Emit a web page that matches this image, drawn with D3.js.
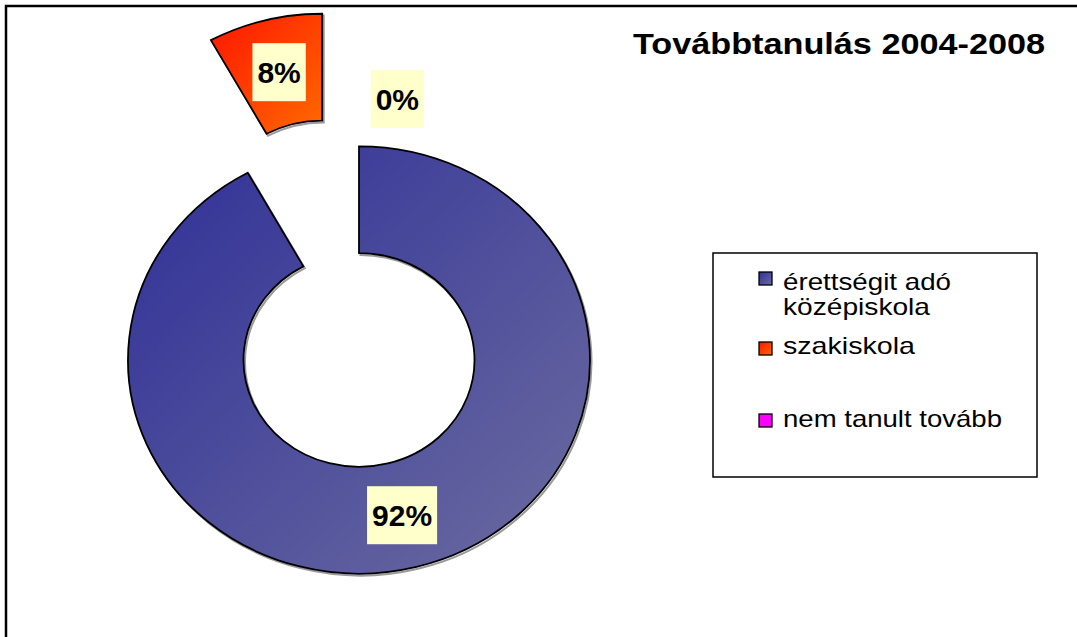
<!DOCTYPE html>
<html>
<head>
<meta charset="utf-8">
<script src="https://cdn.jsdelivr.net/npm/d3@7"></script>
<style>
  body { margin: 0; background: #fff; }
  text { font-family: "Liberation Sans", Arial, sans-serif; }
</style>
</head>
<body>
<script>
// chart data
var categories = ["érettségit adó középiskola", "szakiskola", "nem tanult tovább"];
var values = [92, 8, 0];
var labels = ["92%", "8%", "0%"];
var legendLines = [["érettségit adó", "középiskola"], ["szakiskola"], ["nem tanult tovább"]];
var title = "Továbbtanulás 2004-2008";

var width = 1077, height = 637;
var cx = 359, cy = 360, squash = 0.925;
var outerR = 231, innerR = 115.5;
var explode = [0, 148, 0];

const svg = d3.select("body").append("svg")
  .attr("width", width)
  .attr("height", height);

// gradients
var defs = svg.append("defs");
var grads = [
  ["g0", "#2f2f98", "#6c6ca0"],
  ["g1", "#ff1500", "#ff6a00"],
  ["g2", "#ff00ff", "#ff00ff"]
];
grads.forEach(function (g) {
  var lg = defs.append("linearGradient").attr("id", g[0])
    .attr("x1", 0).attr("y1", 0).attr("x2", 1).attr("y2", 1);
  lg.append("stop").attr("offset", "0%").attr("stop-color", g[1]);
  lg.append("stop").attr("offset", "100%").attr("stop-color", g[2]);
});

// chart area border (only top and left visible)
svg.append("rect")
  .attr("x", 6).attr("y", 6)
  .attr("width", 1200).attr("height", 800)
  .attr("fill", "none").attr("stroke", "#000").attr("stroke-width", 2.5);

var pie = d3.pie().sort(null).value(d => d);
var arcs = pie(values);
var arc = d3.arc().innerRadius(innerR).outerRadius(outerR);

function offset(d, i) {
  var mid = (d.startAngle + d.endAngle) / 2;
  return [Math.sin(mid) * explode[i], -Math.cos(mid) * explode[i]];
}

var g = svg.append("g")
  .attr("transform", "translate(" + cx + "," + cy + ") scale(1," + squash + ")");

// shadow
g.selectAll("path.shadow")
  .data(arcs.filter(d => d.value > 0))
  .enter().append("path")
  .attr("class", "shadow")
  .attr("d", arc)
  .attr("fill", "none")
  .attr("stroke", "#9a9a9a")
  .attr("stroke-width", 2)
  .attr("vector-effect", "non-scaling-stroke")
  .attr("transform", d => {
    var o = offset(d, d.index);
    return "translate(" + (o[0] + 1.5) + "," + (o[1] + 2) + ")";
  });

g.selectAll("path.slice")
  .data(arcs.filter(d => d.value > 0))
  .enter().append("path")
  .attr("class", "slice")
  .attr("d", arc)
  .attr("fill", d => "url(#g" + d.index + ")")
  .attr("stroke", "#000")
  .attr("stroke-width", 1.8)
  .attr("vector-effect", "non-scaling-stroke")
  .attr("transform", d => {
    var o = offset(d, d.index);
    return "translate(" + o[0] + "," + o[1] + ")";
  });

// data labels
var zeroLabelArc = d3.arc().innerRadius(285).outerRadius(285);
var labelG = svg.append("g");
arcs.forEach(function (d, i) {
  var c, o = offset(d, i);
  if (d.value > 0) {
    c = arc.centroid(d);
  } else {
    c = zeroLabelArc.centroid({ startAngle: d.startAngle + 0.135, endAngle: d.endAngle + 0.135 });
  }
  var x = cx + c[0] + o[0];
  var y = cy + (c[1] + o[1]) * squash;
  var lg = labelG.append("g");
  var rect = lg.append("rect").attr("fill", "#ffffcc");
  var t = lg.append("text")
    .attr("x", x).attr("y", y + 11)
    .attr("text-anchor", "middle")
    .attr("font-weight", "bold")
    .attr("font-size", 30)
    .attr("fill", "#000")
    .text(labels[i]);
  var bb = t.node().getBBox();
  rect.attr("x", x - bb.width / 2 - 5)
    .attr("y", y - 29)
    .attr("width", bb.width + 10)
    .attr("height", 58);
});

// title
svg.append("text")
  .attr("x", 633).attr("y", 54)
  .attr("font-weight", "bold")
  .attr("font-size", 30)
  .attr("textLength", 412)
  .attr("lengthAdjust", "spacingAndGlyphs")
  .text(title);

// legend
var legend = svg.append("g");
legend.append("rect")
  .attr("x", 713).attr("y", 253)
  .attr("width", 324).attr("height", 224)
  .attr("fill", "#fff").attr("stroke", "#000").attr("stroke-width", 1.5);

var swatchY = [272, 342, 414];
var lineY = [[290, 315], [354], [427]];
var lineW = [[168, 147], [132], [219]];
categories.forEach(function (c, i) {
  legend.append("rect")
    .attr("x", 759).attr("y", swatchY[i])
    .attr("width", 13).attr("height", 13)
    .attr("fill", "url(#g" + i + ")")
    .attr("stroke", "#000").attr("stroke-width", 1.3);
  legendLines[i].forEach(function (ln, j) {
    legend.append("text")
      .attr("x", 783).attr("y", lineY[i][j])
      .attr("font-size", 24)
      .attr("textLength", lineW[i][j])
      .attr("lengthAdjust", "spacingAndGlyphs")
      .text(ln);
  });
});
</script>
</body>
</html>
